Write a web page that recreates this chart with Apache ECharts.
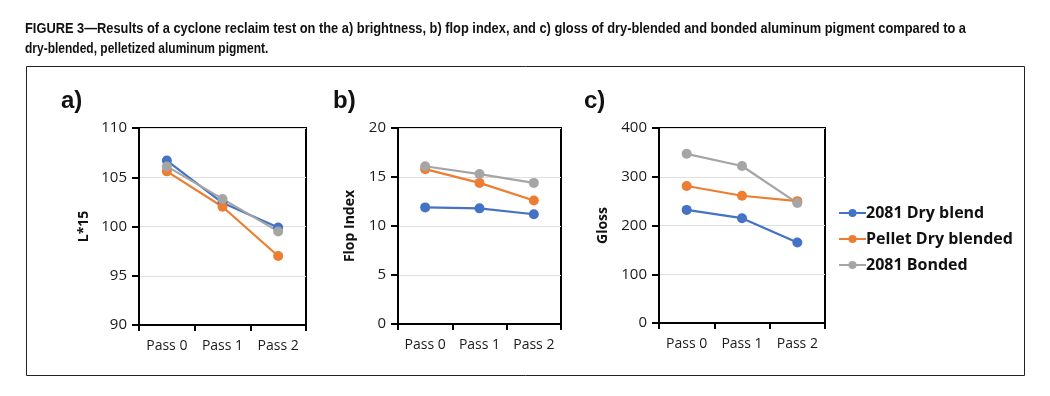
<!DOCTYPE html>
<html><head><meta charset="utf-8">
<script src="https://cdn.jsdelivr.net/npm/echarts@6/dist/echarts.min.js"></script>
<style>html,body{margin:0;padding:0;background:#fff}#c{width:1050px;height:396px}</style>
</head><body><div id="c"></div>
<script>
const categories = ['Pass 0', 'Pass 1', 'Pass 2'];
const seriesNames = ['2081 Dry blend', 'Pellet Dry blended', '2081 Bonded'];
const colors = ['#4472C4', '#ED7D31', '#A5A5A5'];
// a) brightness L*15
const brightDry = [106.7, 102.4, 99.9];
const brightPellet = [105.6, 102.0, 97.0];
const brightBonded = [106.1, 102.8, 99.5];
// b) flop index
const flopDry = [11.9, 11.8, 11.2];
const flopPellet = [15.8, 14.4, 12.6];
const flopBonded = [16.1, 15.3, 14.4];
// c) gloss
const glossDry = [232, 215, 165];
const glossPellet = [281, 261, 250];
const glossBonded = [347, 322, 246];

const captionLines = [
  'FIGURE 3\u2014Results of a cyclone reclaim test on the a) brightness, b) flop index, and c) gloss of dry-blended and bonded aluminum pigment compared to a',
  'dry-blended, pelletized aluminum pigment.'
];

const panels = [
  {label: 'a)', name: 'L*15', min: 90, max: 110, interval: 5, data: [brightDry, brightPellet, brightBonded]},
  {label: 'b)', name: 'Flop Index', min: 0, max: 20, interval: 5, data: [flopDry, flopPellet, flopBonded]},
  {label: 'c)', name: 'Gloss', min: 0, max: 400, interval: 100, data: [glossDry, glossPellet, glossBonded]}
];
const grids = [
  {left: 139, top: 128, width: 167, height: 197, gap: 48, lx: 61},
  {left: 398, top: 128, width: 163, height: 196, gap: 41, lx: 333},
  {left: 659, top: 128, width: 166, height: 195, gap: 49, lx: 584}
];
const tickFont = {color: '#1a1a1a', fontSize: 14, fontFamily: 'Open Sans, Noto Sans, sans-serif'};
const captionStyle = {fontFamily: 'Liberation Sans, Arial, sans-serif', fontWeight: 'bold', fontSize: 15, fill: '#111'};

const option = {
  animation: false,
  backgroundColor: '#fff',
  title: panels.map((p, i) => ({text: p.label, left: grids[i].lx, top: 89, padding: 0,
    textStyle: {fontFamily: 'Liberation Sans, Arial, sans-serif', fontWeight: 'bold', fontSize: 24, color: '#111'}})),
  graphic: [
    {type: 'rect', shape: {x: 26.5, y: 66.5, width: 998, height: 309}, style: {fill: 'none', stroke: '#222', lineWidth: 1}},
    {type: 'text', x: 25, y: 29, scaleX: 0.856, style: Object.assign({text: captionLines[0], textVerticalAlign: 'middle'}, captionStyle)},
    {type: 'text', x: 25, y: 49, scaleX: 0.80, style: Object.assign({text: captionLines[1], textVerticalAlign: 'middle'}, captionStyle)}
  ],
  legend: {
    orient: 'vertical', left: 833, top: 200, itemGap: 10, itemWidth: 27, itemHeight: 10,
    data: seriesNames,
    textStyle: {fontFamily: 'Open Sans, Noto Sans, sans-serif', fontWeight: 'bold', fontSize: 16, color: '#111', padding: [0,0,0,-5]}
  },
  grid: grids.map(g => ({left: g.left, top: g.top, width: g.width, height: g.height, show: true, borderColor: '#000', borderWidth: 2, containLabel: false})),
  xAxis: grids.map((g, i) => ({
    type: 'category', gridIndex: i, data: categories, boundaryGap: true,
    axisLine: {lineStyle: {color: '#000', width: 2}},
    axisTick: {show: true, length: 6, lineStyle: {color: '#000', width: 2}},
    axisLabel: Object.assign({margin: 14}, tickFont)
  })),
  yAxis: panels.map((p, i) => ({
    type: 'value', gridIndex: i, min: p.min, max: p.max, interval: p.interval,
    name: p.name, nameLocation: 'middle', nameRotate: 90, nameGap: grids[i].gap,
    nameTextStyle: {fontFamily: 'Open Sans, Noto Sans, sans-serif', fontWeight: 'bold', fontSize: 14, color: '#111'},
    axisLine: {show: true, lineStyle: {color: '#000', width: 2}},
    axisTick: {show: true, length: 7, lineStyle: {color: '#000', width: 2}},
    axisLabel: Object.assign({margin: 12}, tickFont, {fontSize: 15}),
    splitLine: {show: true, lineStyle: {color: '#e0e0e0', width: 1}}
  })),
  series: []
};
panels.forEach((p, i) => {
  p.data.forEach((d, k) => {
    option.series.push({
      type: 'line', name: seriesNames[k], xAxisIndex: i, yAxisIndex: i, data: d,
      symbol: 'circle', symbolSize: 10,
      lineStyle: {color: colors[k], width: 2.2},
      itemStyle: {color: colors[k]}
    });
  });
});
const chart = echarts.init(document.getElementById('c'), null, {renderer: 'canvas'});
chart.setOption(option);
</script></body></html>
